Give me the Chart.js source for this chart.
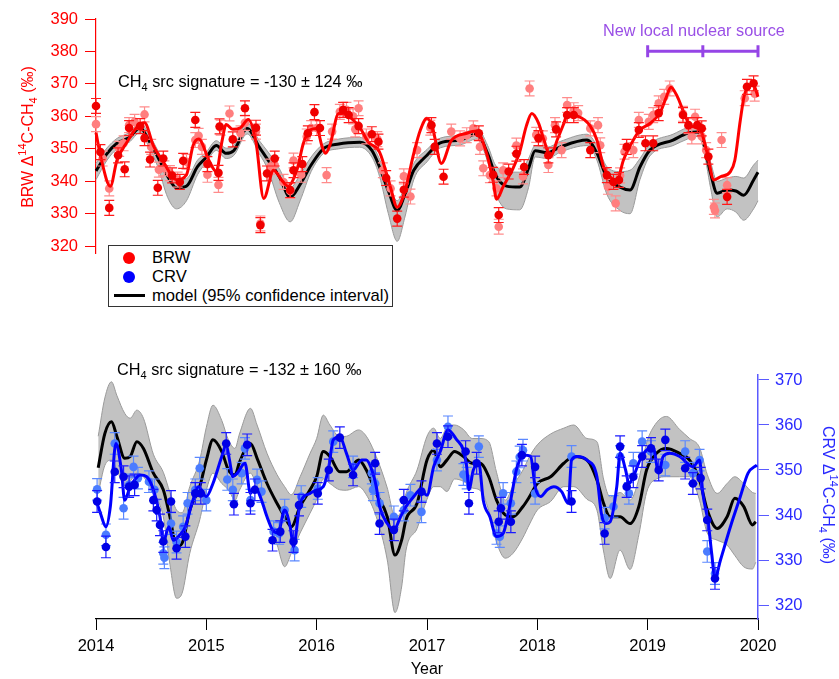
<!DOCTYPE html>
<html><head><meta charset="utf-8">
<script src="https://cdn.jsdelivr.net/npm/chart.js@4.4.1/dist/chart.umd.min.js"></script>
<style>
body{margin:0;background:#fff;font-family:"Liberation Sans",Arial,sans-serif;}
#wrap{position:relative;width:839px;height:679px;overflow:hidden;background:#fff}
canvas{position:absolute;left:0}
.t{position:absolute;white-space:nowrap;font-size:16.3px;color:#000;line-height:16px}
.sb{font-size:11px;position:relative;top:4px}
.sp{font-size:11px;position:relative;top:-7px}
.rot{position:absolute;width:220px;height:18px;line-height:18px;text-align:center;font-size:16px;white-space:nowrap}
</style></head><body>
<div id="wrap">
<canvas id="cTop" width="839" height="272" style="top:0"></canvas>
<canvas id="cBot" width="839" height="339" style="top:340px"></canvas>

<div class="t" style="left:118px;top:73px">CH<span class="sb">4</span> src signature = -130 ± 124 ‰</div>
<div class="t" style="left:117px;top:361px">CH<span class="sb">4</span> src signature = -132 ± 160 ‰</div>
<div class="t" style="left:603px;top:22px;color:#9a4fe6">New local nuclear source</div>

<div class="rot" style="left:-82px;top:128px;color:#ff0000;transform:rotate(-90deg)">BRW Δ<span class="sp">14</span>C-CH<span class="sb">4</span> (‰)</div>
<div class="rot" style="left:718px;top:486px;color:#2a2aff;transform:rotate(90deg)">CRV Δ<span class="sp">14</span>C-CH<span class="sb">4</span> (‰)</div>

<div style="position:absolute;left:108px;top:245px;width:283px;height:60px;border:1px solid #333;background:#fff"></div>
<div style="position:absolute;left:123px;top:252px;width:12px;height:12px;border-radius:50%;background:#ff0000"></div>
<div class="t" style="left:152px;top:250px;font-size:16.6px">BRW</div>
<div style="position:absolute;left:123px;top:271px;width:12px;height:12px;border-radius:50%;background:#0000ff"></div>
<div class="t" style="left:152px;top:269px;font-size:16.6px">CRV</div>
<div style="position:absolute;left:114px;top:294px;width:31px;height:3px;background:#000"></div>
<div class="t" style="left:152px;top:288px;font-size:16.6px">model (95% confidence interval)</div>
</div>
<script>
// ---------------- DATA ----------------
const X_TICKS = [2014, 2015, 2016, 2017, 2018, 2019, 2020];
const TOP_TICKS = [320, 330, 340, 350, 360, 370, 380, 390];
const BOT_TICKS = [320, 330, 340, 350, 360, 370];
const ERR_BRW = 2.3;
const ERR_CRV = 2.4;
const NUC_T = [2019, 2019.5, 2020];
const NUC_V = 380.1;

// Top panel model (BRW) and 95% band
const MT_T = [2014.00,2014.10,2014.19,2014.30,2014.40,2014.48,2014.56,2014.65,2014.73,2014.82,2014.92,2015.00,2015.09,2015.18,2015.25,2015.37,2015.48,2015.56,2015.66,2015.76,2015.85,2015.95,2016.06,2016.20,2016.39,2016.50,2016.57,2016.65,2016.73,2016.80,2016.88,2017.00,2017.12,2017.30,2017.45,2017.55,2017.62,2017.72,2017.84,2017.92,2017.98,2018.09,2018.21,2018.45,2018.54,2018.63,2018.75,2018.84,2018.93,2019.02,2019.23,2019.36,2019.45,2019.50,2019.57,2019.63,2019.72,2019.80,2019.87,2019.96,2020.00];
const MT_V = [343.2,348.5,351.7,353.5,356.5,352.5,347.5,341.5,338.0,338.5,344.5,347.4,351.0,348.6,349.5,356.3,350.5,346.5,341.5,335.1,339.0,345.0,350.0,351.5,352.0,349.5,344.4,337.0,331.0,336.0,343.4,348.0,351.8,352.7,354.6,348.5,342.0,338.5,338.2,344.0,349.4,348.8,350.6,352.7,348.7,341.3,338.2,337.3,344.4,349.6,352.7,354.8,355.2,352.7,342.5,336.3,337.3,337.0,335.7,340.4,342.8];
const MT_LO = [340.5,346.5,350.0,352.0,355.0,350.5,344.5,335.0,331.5,334.0,342.0,345.8,349.5,347.0,348.0,354.6,348.5,343.5,333.5,327.5,334.0,343.0,348.5,350.0,350.5,347.5,341.5,330.0,321.5,329.0,340.5,346.0,350.3,351.2,353.0,346.0,336.5,331.5,331.2,338.0,347.5,347.0,349.0,351.0,346.5,336.0,331.0,330.0,340.5,347.8,351.0,353.0,353.8,350.8,338.0,329.0,331.5,330.5,328.0,331.5,334.0];
const MT_HI = [345.5,350.3,353.2,355.0,358.0,354.5,349.5,343.5,340.5,340.8,346.5,349.0,352.5,350.2,351.0,358.0,352.5,349.0,344.0,338.0,342.0,347.5,351.5,353.0,353.5,351.3,346.8,339.5,334.0,338.5,345.5,349.8,353.3,354.2,356.5,351.0,345.0,343.0,342.8,347.0,351.0,350.5,352.3,354.5,351.0,344.5,343.0,343.4,347.0,351.5,354.5,356.5,356.8,355.0,346.0,340.0,341.0,341.5,341.0,345.0,346.5];

// BRW fitted curve
const BRW_FIT_T = [2014.00,2014.04,2014.13,2014.19,2014.28,2014.38,2014.44,2014.52,2014.61,2014.73,2014.82,2014.88,2014.93,2015.03,2015.09,2015.14,2015.18,2015.24,2015.31,2015.38,2015.45,2015.52,2015.61,2015.68,2015.74,2015.82,2015.88,2015.94,2016.00,2016.05,2016.08,2016.12,2016.20,2016.27,2016.39,2016.47,2016.57,2016.67,2016.73,2016.80,2016.88,2016.94,2017.00,2017.05,2017.13,2017.22,2017.36,2017.45,2017.54,2017.60,2017.63,2017.69,2017.78,2017.84,2017.90,2017.95,2018.01,2018.06,2018.12,2018.18,2018.24,2018.27,2018.37,2018.48,2018.54,2018.60,2018.66,2018.72,2018.78,2018.87,2018.93,2019.02,2019.11,2019.17,2019.21,2019.27,2019.33,2019.39,2019.47,2019.54,2019.60,2019.66,2019.75,2019.79,2019.84,2019.88,2019.96,2020.00];
const BRW_FIT_V = [355.0,348.0,338.5,346.5,352.0,357.0,358.0,351.0,346.0,340.5,342.0,351.0,353.0,346.0,343.0,352.0,357.5,356.0,356.5,359.0,352.0,334.7,343.4,340.5,338.5,343.4,351.7,355.8,356.3,350.6,348.6,351.1,360.9,360.5,356.6,352.0,349.0,338.0,332.0,337.0,348.6,355.8,359.4,356.5,345.5,352.5,354.8,355.5,348.6,340.0,334.5,338.3,344.0,349.0,357.0,360.9,358.0,352.7,347.6,352.7,357.8,360.4,360.0,357.0,352.7,344.5,341.4,340.0,346.5,352.7,355.8,357.8,361.0,366.0,369.0,366.0,361.0,357.0,356.3,348.6,340.4,341.4,343.0,346.5,358.9,367.0,369.6,366.0];

// BRW observations (dark = red, light = pink)
const BRW_D_T = [2014.00,2014.04,2014.12,2014.20,2014.26,2014.30,2014.40,2014.44,2014.49,2014.56,2014.61,2014.69,2014.76,2014.79,2014.90,2015.01,2015.11,2015.12,2015.24,2015.35,2015.45,2015.49,2015.55,2015.62,2015.76,2015.79,2015.87,2015.92,2015.98,2016.03,2016.24,2016.29,2016.38,2016.50,2016.56,2016.63,2016.73,2016.79,2017.04,2017.07,2017.15,2017.47,2017.60,2017.65,2017.74,2017.81,2017.88,2018.01,2018.10,2018.17,2018.27,2018.33,2018.48,2018.63,2018.69,2018.74,2018.81,2018.92,2018.98,2019.05,2019.10,2019.32,2019.37,2019.45,2019.49,2019.55,2019.72,2019.90,2019.96];
const BRW_D_V = [363.2,349.0,331.8,348.0,343.7,356.4,357.0,353.3,346.7,338.0,347.0,341.8,339.8,346.3,358.9,345.3,342.6,356.9,352.9,362.5,356.5,326.5,342.4,347.0,337.3,343.4,345.3,354.8,361.3,356.4,362.0,360.4,357.0,354.5,352.2,341.0,328.5,337.4,357.3,350.6,341.4,354.8,342.0,329.6,343.0,348.5,344.4,353.3,348.0,356.0,360.4,360.4,349.6,341.9,339.8,340.4,350.6,355.8,351.7,351.7,361.0,360.4,357.3,357.3,356.3,347.6,335.2,369.1,370.2];
const BRW_L_T = [2014.00,2014.06,2014.12,2014.21,2014.25,2014.30,2014.35,2014.44,2014.50,2014.57,2014.62,2014.67,2014.74,2014.82,2014.90,2014.93,2014.96,2015.01,2015.11,2015.13,2015.21,2015.31,2015.35,2015.45,2015.49,2015.58,2015.62,2015.70,2015.76,2015.79,2015.86,2015.91,2015.95,2016.00,2016.09,2016.14,2016.21,2016.27,2016.33,2016.35,2016.38,2016.45,2016.55,2016.60,2016.67,2016.79,2016.85,2016.91,2017.03,2017.22,2017.30,2017.36,2017.42,2017.48,2017.51,2017.57,2017.63,2017.65,2017.69,2017.81,2017.87,2017.93,2017.99,2018.05,2018.10,2018.16,2018.22,2018.27,2018.33,2018.37,2018.48,2018.55,2018.57,2018.64,2018.71,2018.75,2018.79,2018.87,2018.92,2019.01,2019.05,2019.10,2019.15,2019.20,2019.32,2019.37,2019.40,2019.43,2019.49,2019.53,2019.60,2019.61,2019.67,2019.72,2019.88,2019.97];
const BRW_L_V = [357.6,347.0,337.8,350.0,351.7,357.3,358.3,360.6,350.6,343.6,344.0,342.5,340.5,346.0,352.7,354.0,350.6,342.0,338.9,356.5,360.9,354.8,358.0,355.3,327.0,344.5,345.0,339.8,337.0,346.4,342.0,353.8,356.4,356.4,341.9,355.3,361.4,362.0,360.0,356.0,362.5,353.8,353.0,343.4,337.8,341.5,335.3,349.6,356.5,355.3,353.2,354.2,356.3,350.6,344.0,341.9,337.8,326.0,343.4,351.0,341.5,368.6,354.3,353.2,345.0,357.3,349.6,363.5,361.9,361.0,356.3,357.3,351.1,338.3,333.2,341.8,349.1,349.6,358.9,358.3,360.4,364.0,366.0,368.6,360.8,357.0,353.8,359.9,353.8,349.6,332.1,331.0,352.7,338.8,365.6,367.0];

// Bottom panel model (CRV) and 95% band
const MB_T = [2014.02,2014.08,2014.14,2014.19,2014.26,2014.31,2014.37,2014.43,2014.52,2014.61,2014.67,2014.73,2014.78,2014.85,2014.94,2015.00,2015.06,2015.14,2015.20,2015.26,2015.30,2015.40,2015.46,2015.55,2015.64,2015.71,2015.77,2015.85,2015.94,2016.00,2016.06,2016.12,2016.21,2016.27,2016.38,2016.45,2016.54,2016.64,2016.71,2016.77,2016.81,2016.91,2017.00,2017.06,2017.12,2017.18,2017.25,2017.33,2017.41,2017.48,2017.56,2017.63,2017.71,2017.78,2017.87,2017.93,2018.00,2018.12,2018.24,2018.33,2018.45,2018.54,2018.60,2018.66,2018.75,2018.84,2018.92,2018.99,2019.08,2019.17,2019.29,2019.38,2019.47,2019.54,2019.63,2019.72,2019.79,2019.87,2019.95,2019.98];
const MB_V = [350.5,358.1,360.7,357.4,352.6,353.0,356.3,354.8,349.3,345.6,339.6,333.0,333.7,341.1,346.3,352.2,356.7,354.1,350.0,348.9,351.7,355.9,352.6,347.0,342.6,339.6,337.4,341.9,345.6,348.5,354.1,353.0,349.6,349.6,352.2,350.0,344.8,339.6,331.1,334.4,339.0,342.6,352.2,354.4,350.7,352.2,354.1,353.0,351.5,351.5,348.5,343.3,340.0,339.6,341.9,344.1,347.0,348.5,351.5,353.0,352.2,347.8,342.6,339.6,339.6,338.1,341.9,350.0,353.7,354.8,353.7,352.2,347.8,341.1,337.0,339.6,343.7,341.9,337.8,338.5];
const MB_LO = [344.8,351.0,352.2,350.0,346.5,347.5,349.3,348.5,344.8,339.6,329.0,321.5,322.6,331.5,338.9,345.5,349.3,347.0,345.6,343.3,345.5,349.3,346.0,339.6,333.5,328.5,331.5,336.0,340.4,343.5,348.0,347.0,345.6,345.5,346.3,344.5,339.6,330.0,318.3,324.0,332.2,337.0,343.5,346.3,346.3,345.2,348.0,347.5,346.0,345.5,341.0,334.0,330.4,331.5,335.0,338.0,341.1,343.0,346.3,346.3,343.5,341.1,332.0,325.9,332.2,327.9,335.6,345.0,348.0,348.5,348.5,348.5,343.3,336.0,334.4,333.3,331.0,328.5,328.0,329.5];
const MB_HI = [357.5,366.0,369.6,366.5,362.6,361.5,363.3,361.5,353.5,349.5,345.0,341.1,340.5,346.3,352.2,359.5,364.4,361.0,356.7,354.8,358.0,363.7,360.0,353.7,349.0,346.3,344.5,348.5,353.7,357.0,362.2,360.0,357.4,357.5,358.9,357.5,353.0,346.0,339.6,341.0,344.8,350.0,357.5,359.3,357.0,359.5,360.0,359.0,357.0,357.0,356.3,349.5,343.3,346.5,350.0,353.0,355.6,358.0,359.3,360.0,357.0,356.3,348.0,344.0,345.0,343.3,348.0,356.0,360.5,361.9,359.0,357.0,355.0,349.0,344.8,347.0,348.5,347.0,345.0,344.8];

// CRV fitted curve
const CRV_FIT_T = [2014.00,2014.04,2014.09,2014.13,2014.18,2014.23,2014.26,2014.31,2014.35,2014.40,2014.46,2014.52,2014.58,2014.61,2014.66,2014.70,2014.76,2014.81,2014.87,2014.93,2015.00,2015.06,2015.14,2015.18,2015.21,2015.24,2015.28,2015.35,2015.40,2015.44,2015.50,2015.55,2015.60,2015.65,2015.71,2015.76,2015.79,2015.85,2015.94,2016.00,2016.06,2016.11,2016.15,2016.21,2016.27,2016.33,2016.41,2016.45,2016.50,2016.54,2016.57,2016.64,2016.70,2016.76,2016.81,2016.88,2016.94,2017.00,2017.06,2017.12,2017.19,2017.27,2017.33,2017.36,2017.38,2017.42,2017.47,2017.51,2017.57,2017.63,2017.69,2017.73,2017.77,2017.81,2017.86,2017.90,2017.94,2017.98,2018.03,2018.09,2018.15,2018.22,2018.28,2018.31,2018.36,2018.45,2018.54,2018.58,2018.62,2018.66,2018.72,2018.75,2018.80,2018.83,2018.87,2018.93,2018.99,2019.05,2019.10,2019.14,2019.20,2019.29,2019.41,2019.47,2019.50,2019.55,2019.58,2019.61,2019.66,2019.75,2019.84,2019.91,2019.99];
const CRV_FIT_V = [343.3,340.4,337.4,341.9,355.9,350.0,343.3,346.3,347.8,348.9,348.5,345.6,339.6,334.0,337.4,334.4,335.6,337.4,342.6,346.3,344.1,347.0,353.0,355.6,352.2,348.5,349.3,351.5,344.8,346.3,343.3,339.6,336.7,336.0,341.1,337.4,333.0,342.6,344.8,345.6,346.3,350.7,356.7,357.4,353.7,350.0,352.2,352.2,350.0,346.3,341.9,338.1,336.7,339.6,341.9,344.1,345.6,344.4,350.7,354.1,358.9,356.7,354.4,350.7,345.6,350.0,351.5,343.3,339.6,335.2,335.9,339.6,344.8,350.0,353.0,353.3,353.0,346.3,344.1,345.6,346.3,345.2,342.6,352.2,353.0,352.2,348.5,340.4,338.1,338.5,346.3,353.7,350.0,347.0,348.5,352.2,354.4,355.0,349.3,353.0,353.7,353.0,350.7,352.2,344.8,338.1,331.5,326.0,330.0,337.4,344.1,349.3,351.1];

// CRV observations (dark = blue, light = light blue)
const CRV_D_T = [2014.01,2014.09,2014.17,2014.25,2014.30,2014.35,2014.52,2014.55,2014.58,2014.61,2014.68,2014.73,2014.81,2014.90,2014.95,2015.18,2015.25,2015.37,2015.40,2015.44,2015.60,2015.67,2015.79,2015.84,2016.01,2016.11,2016.21,2016.33,2016.53,2016.57,2016.70,2016.79,2016.95,2017.09,2017.19,2017.35,2017.38,2017.45,2017.65,2017.67,2017.76,2017.86,2017.98,2018.31,2018.61,2018.75,2018.81,2018.87,2018.95,2019.03,2019.10,2019.16,2019.34,2019.41,2019.48,2019.54,2019.61];
const CRV_D_V = [343.0,332.9,349.6,348.5,346.3,346.7,343.3,341.1,337.8,334.1,343.0,332.6,335.2,344.8,344.8,355.9,342.4,355.6,342.6,345.6,334.4,336.3,334.1,342.2,344.8,350.0,357.2,348.9,351.5,338.1,336.7,343.3,345.2,355.9,357.4,354.1,342.6,351.5,338.5,341.5,338.5,353.3,350.7,343.0,335.9,355.2,346.3,348.5,353.0,354.8,350.0,356.7,350.4,347.0,348.2,338.9,325.9];
const CRV_L_T = [2014.01,2014.09,2014.17,2014.25,2014.30,2014.34,2014.38,2014.48,2014.53,2014.61,2014.62,2014.68,2014.73,2014.79,2014.83,2014.90,2014.94,2015.00,2015.19,2015.24,2015.32,2015.35,2015.40,2015.46,2015.50,2015.61,2015.66,2015.71,2015.80,2015.86,2016.01,2016.15,2016.33,2016.50,2016.51,2016.53,2016.57,2016.70,2016.79,2016.85,2016.95,2017.09,2017.19,2017.33,2017.36,2017.47,2017.63,2017.66,2017.69,2017.76,2017.81,2017.84,2017.87,2017.98,2018.31,2018.61,2018.69,2018.75,2018.83,2018.87,2018.95,2019.03,2019.16,2019.34,2019.41,2019.47,2019.54,2019.61];
const CRV_L_V = [345.7,335.6,355.9,341.5,346.7,350.7,348.2,347.4,345.6,331.5,330.5,338.1,334.0,337.4,342.6,345.6,350.4,343.3,347.9,345.6,349.3,354.8,343.3,347.8,345.2,336.3,335.9,341.1,332.2,344.1,345.9,356.3,350.7,349.3,345.6,347.0,342.6,339.6,341.1,344.4,340.7,352.2,359.6,349.0,348.2,355.2,335.9,335.2,344.8,342.6,349.6,352.9,354.4,344.8,353.0,339.3,341.9,353.0,344.8,351.5,356.3,354.1,351.1,354.1,349.3,352.2,331.9,327.0];

// ---------------- HELPERS ----------------
const zip = (t, v) => t.map((x, i) => ({x: x, y: v[i]}));
const FONT = '"Liberation Sans", Arial, sans-serif';

const errPlugin = {
  id: 'errbars',
  beforeDatasetDraw(chart, args) {
    const ds = chart.data.datasets[args.index];
    if (!ds.errBar) return;
    const ctx = chart.ctx, ys = chart.scales.y, xs = chart.scales.x;
    ctx.save();
    ctx.strokeStyle = ds.errBar.color;
    ctx.lineWidth = 1.2;
    ctx.beginPath();
    ds.data.forEach(p => {
      const x = xs.getPixelForValue(p.x);
      const y1 = ys.getPixelForValue(p.y - ds.errBar.err);
      const y2 = ys.getPixelForValue(p.y + ds.errBar.err);
      ctx.moveTo(x, y1); ctx.lineTo(x, y2);
      ctx.moveTo(x - 5, y1); ctx.lineTo(x + 5, y1);
      ctx.moveTo(x - 5, y2); ctx.lineTo(x + 5, y2);
    });
    ctx.stroke();
    ctx.restore();
  }
};

const nucPlugin = {
  id: 'nuc',
  afterDatasetsDraw(chart) {
    const ctx = chart.ctx, xs = chart.scales.x, ys = chart.scales.y;
    const y = ys.getPixelForValue(NUC_V);
    ctx.save();
    ctx.strokeStyle = '#9545e6';
    ctx.lineWidth = 3;
    ctx.beginPath();
    ctx.moveTo(xs.getPixelForValue(NUC_T[0]), y);
    ctx.lineTo(xs.getPixelForValue(NUC_T[NUC_T.length - 1]), y);
    NUC_T.forEach(t => {
      const x = xs.getPixelForValue(t);
      ctx.moveTo(x, y - 6); ctx.lineTo(x, y + 6);
    });
    ctx.stroke();
    ctx.restore();
  }
};

function lineDs(data, color, width, order) {
  return {data, borderColor: color, borderWidth: width, pointRadius: 0, fill: false,
    cubicInterpolationMode: 'monotone', order, clip: false};
}
function bandDs(data, fill, order) {
  return {data, borderColor: '#9a9a9a', borderWidth: 1, pointRadius: 0, fill: fill,
    backgroundColor: '#c2c2c2', cubicInterpolationMode: 'monotone', order, clip: false};
}
function ptsDs(data, color, errColor, err, order) {
  return {data, showLine: false, pointRadius: 4.3, pointBackgroundColor: color,
    pointBorderWidth: 0, borderColor: color, errBar: {color: errColor, err: err}, order, clip: false};
}

Chart.defaults.font.family = FONT;
Chart.defaults.animation = false;

// ---------------- TOP CHART ----------------
new Chart(document.getElementById('cTop'), {
  type: 'line',
  data: {datasets: [
    bandDs(zip(MT_T, MT_HI), '+1', 20),
    bandDs(zip(MT_T, MT_LO), false, 19),
    lineDs(zip(MT_T, MT_V), '#000000', 3, 15),
    ptsDs(zip(BRW_L_T, BRW_L_V), '#ff7e7e', '#ff8c8c', ERR_BRW, 12),
    lineDs(zip(BRW_FIT_T, BRW_FIT_V), '#ff0000', 3, 10),
    ptsDs(zip(BRW_D_T, BRW_D_V), '#f00000', '#ff1a1a', ERR_BRW, 8)
  ]},
  options: {
    responsive: false,
    devicePixelRatio: 1,
    layout: {padding: {left: 0, right: 81, top: 19, bottom: 18.8}},
    plugins: {legend: {display: false}, tooltip: {enabled: false}},
    scales: {
      x: {type: 'linear', min: 2014, max: 2020, display: false},
      y: {
        type: 'linear', position: 'left', min: 317.84, max: 390,
        afterFit(s) { s.width = 96; },
        afterBuildTicks(s) { s.ticks = TOP_TICKS.map(v => ({value: v})); },
        ticks: {color: '#ff0000', padding: 7, font: {size: 16.5}, callback: v => String(v)},
        grid: {display: true, drawOnChartArea: false, drawTicks: true, tickLength: 11, color: '#ff0000'},
        border: {display: true, color: '#ff0000', width: 1.2}
      }
    }
  },
  plugins: [errPlugin, nucPlugin]
});

// ---------------- BOTTOM CHART ----------------
new Chart(document.getElementById('cBot'), {
  type: 'line',
  data: {datasets: [
    bandDs(zip(MB_T, MB_HI), '+1', 20),
    bandDs(zip(MB_T, MB_LO), false, 19),
    lineDs(zip(MB_T, MB_V), '#000000', 3, 15),
    ptsDs(zip(CRV_L_T, CRV_L_V), '#4a7cff', '#5b88ff', ERR_CRV, 12),
    lineDs(zip(CRV_FIT_T, CRV_FIT_V), '#0000ff', 3, 10),
    ptsDs(zip(CRV_D_T, CRV_D_V), '#0000e6', '#1a1aff', ERR_CRV, 8)
  ]},
  options: {
    responsive: false,
    devicePixelRatio: 1,
    layout: {padding: {left: 96, right: 0, top: 35, bottom: 0}},
    plugins: {legend: {display: false}, tooltip: {enabled: false}},
    scales: {
      x: {
        type: 'linear', min: 2014, max: 2020,
        afterFit(s) { s.height = 60; },
        afterBuildTicks(s) { s.ticks = X_TICKS.map(v => ({value: v})); },
        ticks: {color: '#000', padding: 7, font: {size: 16.5}, callback: v => String(v), maxRotation: 0},
        grid: {display: true, drawOnChartArea: false, drawTicks: true, tickLength: 11, color: '#000'},
        border: {display: true, color: '#000', width: 1.2},
        title: {display: true, text: 'Year', color: '#000', font: {size: 16}, padding: {top: 0, bottom: 0}}
      },
      y: {
        type: 'linear', position: 'right', min: 316.89, max: 371.11,
        afterFit(s) { s.width = 81; },
        afterBuildTicks(s) { s.ticks = BOT_TICKS.map(v => ({value: v})); },
        ticks: {color: '#2a2aff', padding: 6, font: {size: 16.5}, callback: v => String(v)},
        grid: {display: true, drawOnChartArea: false, drawTicks: true, tickLength: 11, color: '#5a5aff'},
        border: {display: true, color: '#5a5aff', width: 1.5}
      }
    }
  },
  plugins: [errPlugin]
});
</script>
</body></html>
